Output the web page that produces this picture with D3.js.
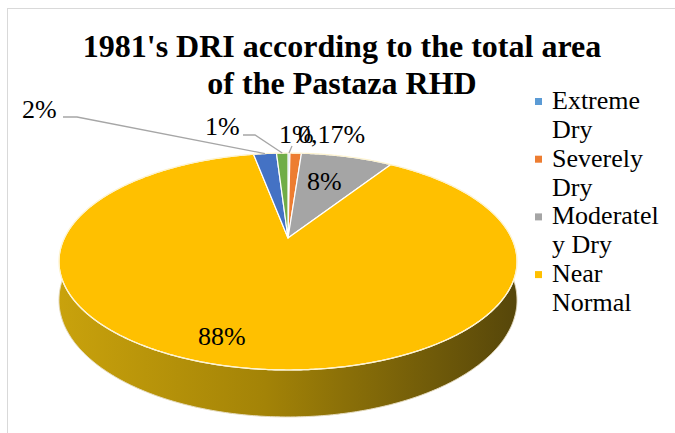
<!DOCTYPE html>
<html>
<head>
<meta charset="utf-8">
<script src="https://cdn.jsdelivr.net/npm/d3@7"></script>
</head>
<body style="margin:0">
<svg id="dri" width="675" height="433"></svg>
<script>
// DRI classes and their share (%) of the Pastaza RHD area in 1981
const categories = ["Extreme Dry", "Severely Dry", "Moderately Dry", "Near Normal", "Moderately Wet", "Severely Wet"];
const shares = [0.17, 1, 8, 88, 2, 1];
const colors = ["#5B9BD5", "#ED7D31", "#A5A5A5", "#FFC000", "#4472C4", "#70AD47"];
const legendLines = [["Extreme", "Dry"], ["Severely", "Dry"], ["Moderatel", "y Dry"], ["Near", "Normal"]];
const titleLines = ["1981's DRI according to the total area", "of the Pastaza RHD"];

// label placement (text start x, baseline y) and leader elbows, per class
const labelPos = [[298, 143], [279, 143], [307, 190], [198, 345], [22, 118], [205, 135]];
const leaderElbows = [[[292, 146]], null, null, null, [[63, 117], [77, 117]], [[243, 135], [255, 135]]];

const FONT = '"Liberation Serif"';
const svg = d3.select("#dri");

// frame of the plot area
svg.append("rect").attr("x", 7.5).attr("y", 8.5).attr("width", 720).attr("height", 500)
  .attr("fill", "none").attr("stroke", "#d9d9d9").attr("stroke-width", 1);

// title
svg.append("g").selectAll("text").data(titleLines).join("text")
  .attr("x", 342).attr("y", (d, i) => 57 + i * 37)
  .attr("text-anchor", "middle")
  .style("font-family", FONT).attr("font-weight", "bold").attr("font-size", 32)
  .attr("fill", "#000").text(d => d);

// 3D pie projection: disk seen in perspective
const cx = 288, cy = 238, Rx = 223.6, Ry = 103.4, k = 0.2166, H = 36.8;
function project(angle, drop) {
  const u = Math.sin(angle), v = -Math.cos(angle);
  const f = 1 / (1 - k * v);
  return [cx + Rx * u * f, cy + Ry * v * f + (drop ? H * f : 0)];
}
function rim(a0, a1, drop) {
  const n = Math.max(2, Math.ceil((a1 - a0) / (Math.PI / 360)));
  return d3.range(n + 1).map(i => project(a0 + (a1 - a0) * i / n, drop));
}

const pie = d3.pie().sort(null).value(d => d).startAngle(0).endAngle(2 * Math.PI);
const arcs = pie(shares);

// side shading
const defs = svg.append("defs");
const grad = defs.append("linearGradient").attr("id", "sideShade")
  .attr("gradientUnits", "userSpaceOnUse").attr("x1", 59).attr("x2", 517).attr("y1", 0).attr("y2", 0);
grad.append("stop").attr("offset", 0).attr("stop-color", "#c9a20c");
grad.append("stop").attr("offset", 0.45).attr("stop-color", "#a38307");
grad.append("stop").attr("offset", 1).attr("stop-color", "#56460a");

const line = d3.line();
const pieG = svg.append("g");

// outer walls, back to front
const sides = arcs.map((a, i) => ({ a, i, depth: -Math.cos((a.startAngle + a.endAngle) / 2) }))
  .sort((p, q) => p.depth - q.depth);
pieG.selectAll("path.side").data(sides).join("path")
  .attr("class", "side")
  .attr("d", s => {
    const top = rim(s.a.startAngle, s.a.endAngle, false);
    const bot = rim(s.a.startAngle, s.a.endAngle, true).reverse();
    return line(top.concat(bot)) + "Z";
  })
  .attr("fill", s => s.i === 3 ? "url(#sideShade)" : d3.color(colors[s.i]).darker(1.2))
  .attr("stroke", "none");

// lower outline
pieG.append("path")
  .attr("d", line(rim(Math.PI / 2, 3 * Math.PI / 2, true)))
  .attr("fill", "none").attr("stroke", "#e6dcc0").attr("stroke-width", 1);

// top faces
pieG.selectAll("path.top").data(arcs).join("path")
  .attr("class", "top")
  .attr("d", a => line([[cx, cy]].concat(rim(a.startAngle, a.endAngle, false))) + "Z")
  .attr("fill", (a, i) => colors[i])
  .attr("stroke", "#ffffff").attr("stroke-width", 1.2).attr("stroke-linejoin", "round");

// rim highlight
pieG.append("path")
  .attr("d", line(rim(0, 2 * Math.PI, false)) + "Z")
  .attr("fill", "none").attr("stroke", "#fdf3cf").attr("stroke-width", 1.2);

// leader lines
const fmt = v => v < 1 ? v.toFixed(2).replace(".", ",") + "%" : Math.round(v) + "%";
arcs.forEach((a, i) => {
  if (!leaderElbows[i]) return;
  const mid = (a.startAngle + a.endAngle) / 2;
  const pts = leaderElbows[i].concat([project(mid, false)]);
  svg.append("path").attr("d", line(pts))
    .attr("fill", "none").attr("stroke", "#a6a6a6").attr("stroke-width", 1.3);
});

// data labels
svg.append("g").selectAll("text").data(arcs).join("text")
  .attr("x", (a, i) => labelPos[i][0]).attr("y", (a, i) => labelPos[i][1])
  .style("font-family", FONT).attr("font-size", 26).attr("fill", "#000")
  .text(a => fmt(a.data));

// legend
const lg = svg.append("g");
legendLines.forEach((lines, i) => {
  const base = 109 + i * 57.7;
  lg.append("rect").attr("x", 535).attr("y", base - 11).attr("width", 7).attr("height", 7)
    .attr("fill", colors[i]);
  lines.forEach((t, j) => {
    lg.append("text").attr("x", 552).attr("y", base + j * 28.8)
      .style("font-family", FONT).attr("font-size", 26).attr("fill", "#000").text(t);
  });
});
</script>
</body>
</html>
